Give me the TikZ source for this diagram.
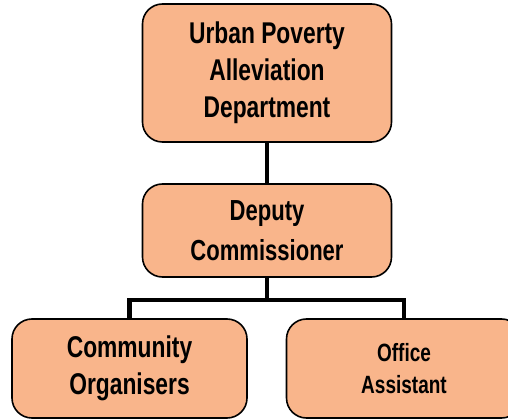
\documentclass[tikz,border=0pt]{standalone}
\usepackage{fontspec}
\setmainfont{Liberation Sans}[FakeStretch=0.76]
\usepackage{tikz}
\usetikzlibrary{positioning,calc}
\definecolor{peach}{HTML}{F9B58B}
\tikzset{
  post/.style={draw, line width=1.6pt, rounded corners=20pt, fill=peach, align=center,
    font=\bfseries\fontsize{30}{37}\selectfont, minimum width=249pt},
  link/.style={line width=4.5pt}
}

\begin{document}
\begin{tikzpicture}[x=1pt, y=-1pt]
    \clip (0,0) rectangle (508,419);
    % Boxes
    \node[post, minimum height=138pt] (upad) at (267,73) {Urban Poverty\\Alleviation\\Department};
    \node[post, minimum height=93pt, font=\bfseries\fontsize{29}{40}\selectfont] (dc) at (267,230.5) {Deputy\\Commissioner};
    \node[post, minimum width=235pt, minimum height=99pt] (co) at (129.5,368.5) {Community\\Organisers};
    \node[post, minimum width=235pt, minimum height=99pt, font=\bfseries\fontsize{25}{32}\selectfont] (oa) at (404,368.5) {Office\\Assistant};
    % Connectors
    \draw[link] (upad) -- (dc);
    \coordinate (bar) at ($(dc.south)+(0,22)$);
    \draw[link] (dc.south) -- (bar);
    \draw[link] (bar) -| (co.north);
    \draw[link] (bar) -| (oa.north);
\end{tikzpicture}
\end{document}
